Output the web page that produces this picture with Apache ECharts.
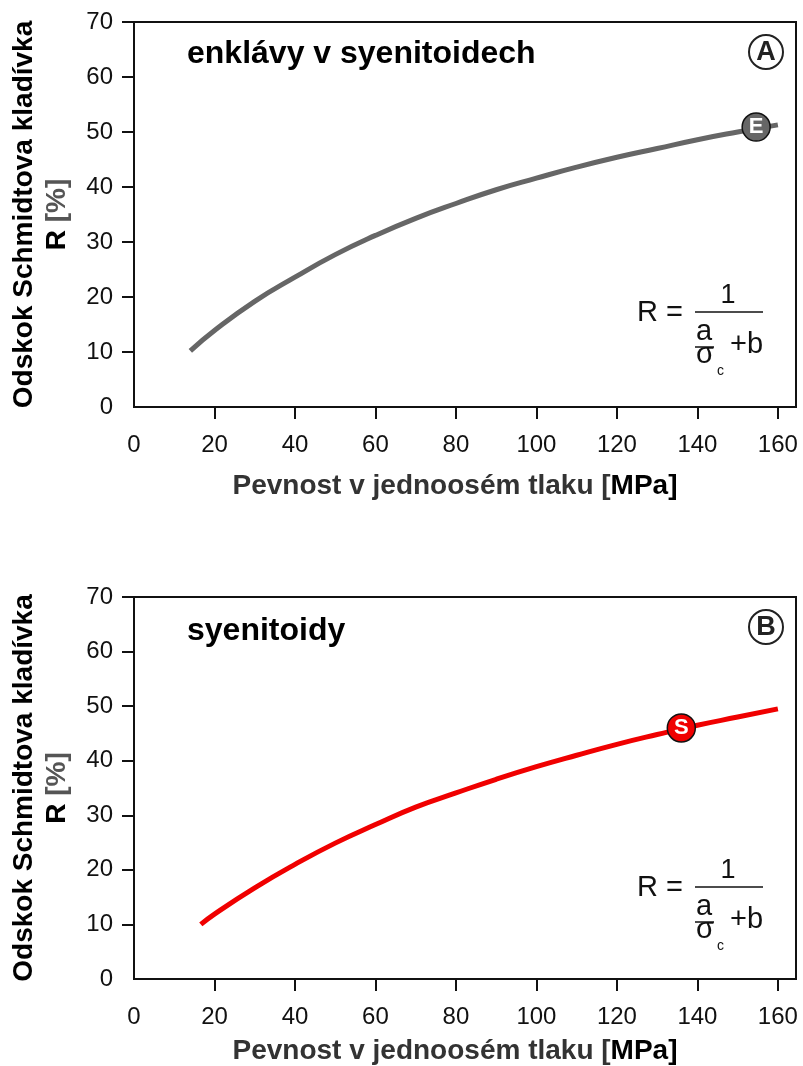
<!DOCTYPE html>
<html>
<head>
<meta charset="utf-8">
<script src="https://cdn.jsdelivr.net/npm/echarts@6/dist/echarts.min.js"></script>
<style>
  html, body { margin: 0; padding: 0; background: #fff; }
  #chart { width: 803px; height: 1066px; }
</style>
</head>
<body>
<div id="chart"></div>
<script>
// panel A - enklávy v syenitoidech
const sigmaA = [14, 20, 30, 40, 50, 60, 70, 80, 90, 100, 110, 120, 130, 140, 150, 160];
const rA = [10.2, 13.9, 19.2, 23.6, 27.7, 31.2, 34.3, 37.0, 39.5, 41.6, 43.6, 45.4, 47.0, 48.6, 50.0, 51.3];
const markA = [154.6, 50.9];
// panel B - syenitoidy
const sigmaB = [16.6, 20, 30, 40, 50, 60, 70, 80, 90, 100, 110, 120, 130, 140, 150, 160];
const rB = [10.0, 11.9, 16.7, 21.0, 24.9, 28.3, 31.5, 34.1, 36.6, 38.9, 41.0, 43.0, 44.8, 46.5, 48.0, 49.5];
const markB = [136, 46.0];

const xTicks = [0, 20, 40, 60, 80, 100, 120, 140, 160];
const yTicks = [0, 10, 20, 30, 40, 50, 60, 70];
const panelTitles = ["enklávy v syenitoidech", "syenitoidy"];
const panelLetters = ["A", "B"];
const markLetters = ["E", "S"];
const colors = ["#666666", "#f00000"];

const FONT = "'Liberation Sans', Arial, Helvetica, sans-serif";
const TOP = [22, 597];   // grid tops
const H = 385;

const chart = echarts.init(document.getElementById("chart"));

function zip(xs, ys) {
  return xs.map((x, i) => [x, ys[i]]);
}

function xAxisFor(i, gap) {
  return {
    type: "value",
    gridIndex: i,
    min: 0,
    max: 164.5,
    interval: 20,
    splitLine: { show: false },
    axisLine: { lineStyle: { color: "#111", width: 2 } },
    axisTick: { length: 12, customValues: xTicks.slice(1), lineStyle: { color: "#111", width: 2 } },
    axisLabel: { customValues: xTicks, fontSize: 24, color: "#111", margin: 26, fontFamily: FONT },
    name: "{a|Pevnost v jednoosém tlaku [}{b|MPa]}",
    nameLocation: "middle",
    nameGap: gap,
    nameTextStyle: {
      padding: [0, 20, 0, 0],
      rich: {
        a: { fontSize: 28, fontWeight: "bold", color: "#333", fontFamily: FONT },
        b: { fontSize: 28, fontWeight: "bold", color: "#000", fontFamily: FONT },
      },
    },
  };
}

function yAxisFor(i) {
  return {
    type: "value",
    gridIndex: i,
    min: 0,
    max: 70,
    interval: 10,
    splitLine: { show: false },
    axisLine: { lineStyle: { color: "#111", width: 2 } },
    axisTick: { length: 12, customValues: yTicks.slice(1), lineStyle: { color: "#111", width: 2 } },
    axisLabel: { customValues: yTicks, fontSize: 24, color: "#111", margin: 21, fontFamily: FONT },
    name: "{n|Odskok Schmidtova kladívka}\n{n|R }{g|[%]}",
    nameLocation: "middle",
    nameRotate: 90,
    nameGap: 60,
    nameTextStyle: {
      lineHeight: 33,
      rich: {
        n: { fontSize: 28, fontWeight: "bold", color: "#000", fontFamily: FONT, lineHeight: 33 },
        g: { fontSize: 28, fontWeight: "bold", color: "#555", fontFamily: FONT, lineHeight: 33 },
      },
    },
  };
}

// text helper for graphic annotations
function txt(text, x, y, size, opts) {
  opts = opts || {};
  return {
    type: "text",
    x: x,
    y: y,
    z: 100,
    style: {
      text: text,
      fill: opts.fill || "#111",
      font: (opts.weight || "normal") + " " + size + "px " + FONT,
      textAlign: opts.align || "left",
      textVerticalAlign: "middle",
      align: opts.align || "left",
      verticalAlign: "middle",
    },
  };
}

function panelGraphics(i) {
  const dy = TOP[i] - TOP[0];
  const titleY = i === 0 ? 54 : 56 + dy;
  return [
    txt(panelTitles[i], 187, titleY, 32, { weight: "bold", fill: "#000" }),
    { type: "circle", z: 100, shape: { cx: 766, cy: 52 + dy, r: 17 }, style: { fill: "#fff", stroke: "#222", lineWidth: 2 } },
    txt(panelLetters[i], 766, 53 + dy, 27, { weight: "bold", align: "center", fill: "#222" }),
    // formula R = 1 / (a/σc + b)
    txt("R =", 637, 313 + dy, 29),
    { type: "line", z: 100, shape: { x1: 695, y1: 312 + dy, x2: 763, y2: 312 + dy }, style: { stroke: "#111", lineWidth: 1.5 } },
    txt("1", 728, 296 + dy, 27, { align: "center" }),
    txt("a", 696, 332 + dy, 29),
    { type: "line", z: 100, shape: { x1: 695, y1: 347 + dy, x2: 714, y2: 347 + dy }, style: { stroke: "#111", lineWidth: 1.5 } },
    txt("σ", 696, 355 + dy, 29),
    txt("c", 717, 371 + dy, 14),
    txt("+b", 730, 345 + dy, 29),
  ];
}

function markSeries(i, mark) {
  return {
    type: "scatter",
    xAxisIndex: i,
    yAxisIndex: i,
    z: 5,
    symbolSize: 28,
    data: [mark],
    itemStyle: { color: colors[i], borderColor: "#111", borderWidth: 1.5, opacity: 1 },
    label: {
      show: true,
      position: "inside",
      formatter: markLetters[i],
      color: "#fff",
      fontSize: 22,
      fontWeight: "bold",
      fontFamily: FONT,
    },
  };
}

const option = {
  backgroundColor: "#fff",
  animation: false,
  textStyle: { fontFamily: FONT },
  grid: [
    { left: 133, top: TOP[0], width: 663, height: H, show: true, borderColor: "#111", borderWidth: 2, backgroundColor: "transparent" },
    { left: 133, top: TOP[1], width: 663, height: H, show: true, borderColor: "#111", borderWidth: 2, backgroundColor: "transparent" },
  ],
  xAxis: [xAxisFor(0, 65), xAxisFor(1, 58)],
  yAxis: [yAxisFor(0), yAxisFor(1)],
  series: [
    {
      type: "line",
      xAxisIndex: 0,
      yAxisIndex: 0,
      smooth: true,
      showSymbol: false,
      data: zip(sigmaA, rA),
      lineStyle: { color: colors[0], width: 5 },
    },
    markSeries(0, markA),
    {
      type: "line",
      xAxisIndex: 1,
      yAxisIndex: 1,
      smooth: true,
      showSymbol: false,
      data: zip(sigmaB, rB),
      lineStyle: { color: colors[1], width: 5 },
    },
    markSeries(1, markB),
  ],
  graphic: { elements: panelGraphics(0).concat(panelGraphics(1)) },
};

chart.setOption(option);
</script>
</body>
</html>
